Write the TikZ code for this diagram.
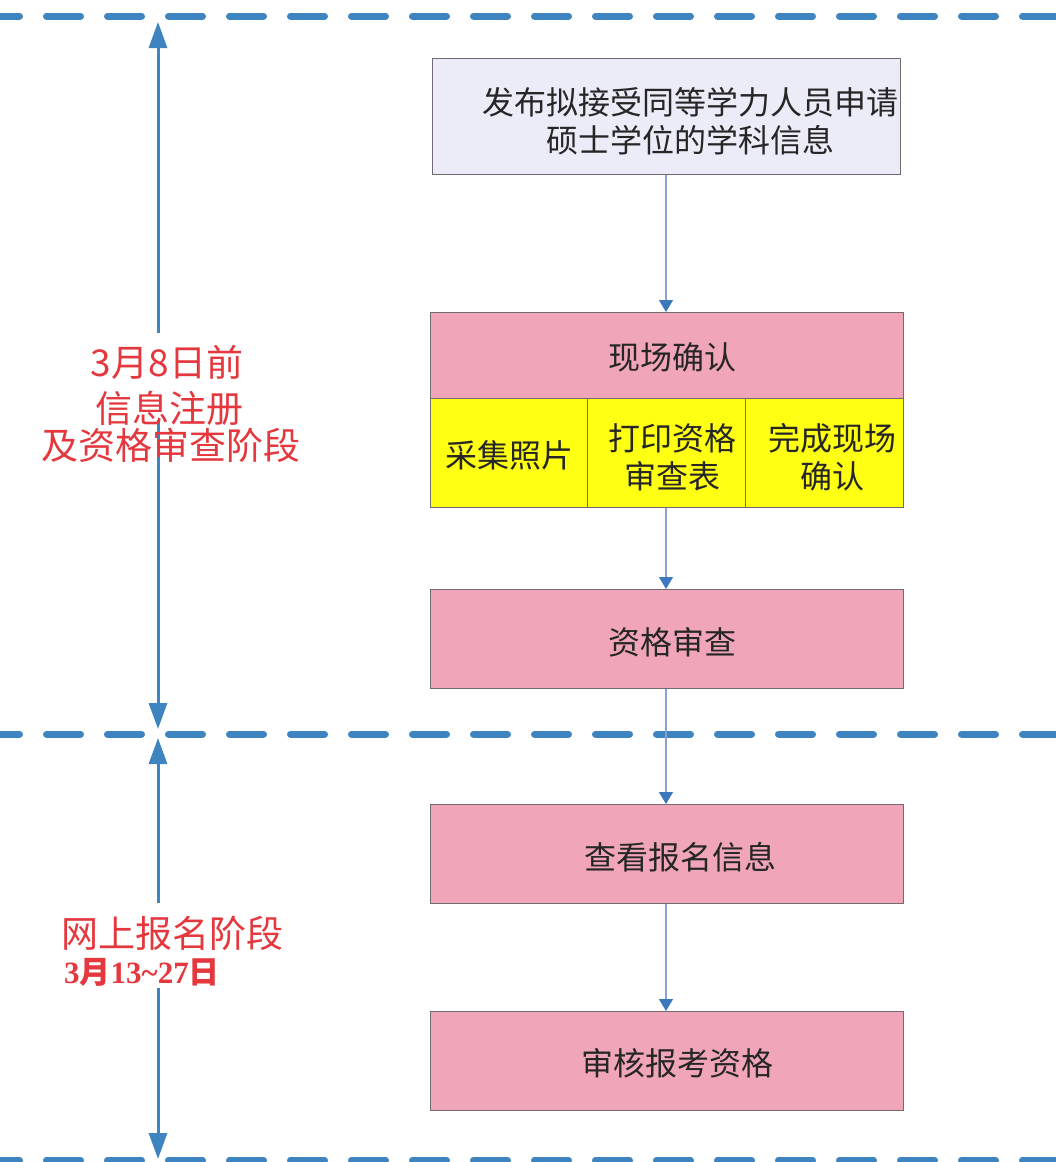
\documentclass[tikz,border=0pt]{standalone}
\usepackage{fontspec}
\setmainfont{Noto Sans CJK SC}
\newfontfamily\serifb{Liberation Serif}
\usetikzlibrary{arrows.meta}
\definecolor{dashblue}{RGB}{62,132,192}
\definecolor{flowline}{RGB}{140,160,212}
\definecolor{flowtip}{RGB}{60,120,190}
\definecolor{boxpink}{RGB}{240,166,184}
\definecolor{boxyellow}{RGB}{255,255,20}
\definecolor{boxlav}{RGB}{236,236,248}
\definecolor{boxborder}{RGB}{115,105,115}
\definecolor{labred}{RGB}{228,56,62}
\tikzset{
  sepline/.style={dashblue,line width=7pt,line cap=round,dash pattern=on 34pt off 27pt},
  timearrow/.style={dashblue,line width=3pt,-{Triangle[width=18pt,length=26pt]}},
  flow/.style={flowline,line width=1.2pt,-{Triangle[width=14pt,length=12pt,color=flowtip]}},
  box/.style={draw=boxborder,line width=1pt,inner sep=0pt,anchor=north west},
  pinkbox/.style={box,fill=boxpink},
  yellowbox/.style={box,fill=boxyellow},
  boxtext/.style={font=\fontsize{32}{38}\selectfont,align=center,inner sep=0pt,text=black!85},
  label/.style={font=\fontsize{37}{40}\selectfont,text=labred,inner sep=0pt}
}
\begin{document}
\begin{tikzpicture}[x=1pt,y=-1pt]
\useasboundingbox (0,0) rectangle (1056,1162);
\fill[white] (0,0) rectangle (1056,1162);
% separator lines
\draw[sepline] (-14.5,16) -- (1080,16);
\draw[sepline] (-14.5,734) -- (1080,734);
\draw[sepline] (-14.5,1160) -- (1080,1160);
% boxes
\node[box,fill=boxlav,minimum width=468pt,minimum height=116pt] (b1) at (432,58) {};
\node[boxtext] (t1) at (690,121) {发布拟接受同等学力人员申请\\硕士学位的学科信息};
\node[pinkbox,minimum width=473pt,minimum height=86pt] (b2) at (430,312) {};
\node[boxtext] (t2) at (672,357) {现场确认};
\node[yellowbox,minimum width=157pt,minimum height=109pt] (y1) at (430,398) {};
\node[yellowbox,minimum width=158pt,minimum height=109pt] (y2) at (587,398) {};
\node[yellowbox,minimum width=158pt,minimum height=109pt] (y3) at (745,398) {};
\node[boxtext] (ty1) at (509,455) {采集照片};
\node[boxtext] (ty2) at (672,457) {打印资格\\审查表};
\node[boxtext] (ty3) at (832,457) {完成现场\\确认};
\node[pinkbox,minimum width=473pt,minimum height=99pt] (b3) at (430,589) {};
\node[boxtext] (t3) at (672,642) {资格审查};
\node[pinkbox,minimum width=473pt,minimum height=99pt] (b4) at (430,804) {};
\node[boxtext] (t4) at (680,857) {查看报名信息};
\node[pinkbox,minimum width=473pt,minimum height=99pt] (b5) at (430,1011) {};
\node[boxtext] (t5) at (677,1063) {审核报考资格};
% flow arrows
\draw[flow] (b1.south -| 666,0) -- (b2.north -| 666,0);
\draw[flow] (y2.south -| 666,0) -- (b3.north -| 666,0);
\draw[flow] (b3.south -| 666,0) -- (b4.north -| 666,0);
\draw[flow] (b4.south -| 666,0) -- (b5.north -| 666,0);
% timeline
\coordinate (a1s) at (158,333); \coordinate (a1e) at (158,22);
\coordinate (a2s) at (158,420); \coordinate (a2e) at (158,729);
\coordinate (a3s) at (158,903); \coordinate (a3e) at (158,738);
\coordinate (a4s) at (158,988); \coordinate (a4e) at (158,1159);
\draw[timearrow] (a1s) -- (a1e);
\draw[timearrow] (a2s) -- (a2e);
\draw[timearrow] (a3s) -- (a3e);
\draw[timearrow] (a4s) -- (a4e);
% labels
\node[label] (l1) at (167,362) {3月8日前};
\node[label] (l2) at (169,408) {信息注册};
\node[label] (l3) at (171,445) {及资格审查阶段};
\node[label] (l4) at (172,933) {网上报名阶段};
\node[label,font=\fontsize{31}{34}\selectfont\bfseries] (l5) at (142,972) {{\serifb\bfseries 3}月{\serifb\bfseries 13\char`~27}日};
\end{tikzpicture}
\end{document}
